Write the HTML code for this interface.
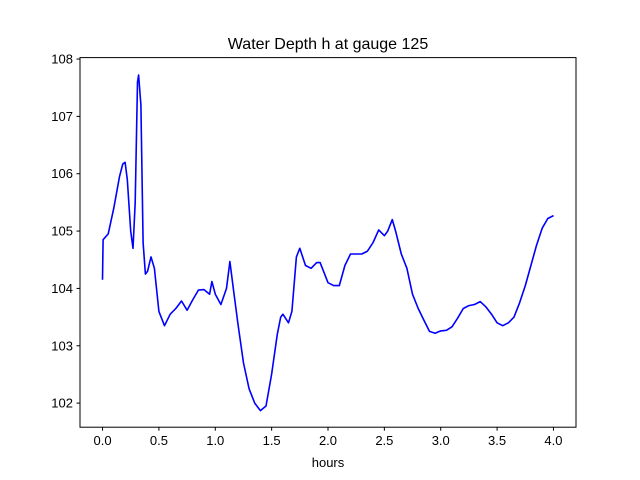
<!DOCTYPE html>
<html><head><meta charset="utf-8"><style>
html,body{margin:0;padding:0;background:#fff;}
svg{display:block;font-family:"Liberation Sans","DejaVu Sans",sans-serif;}
</style></head><body>
<svg id="chart" width="640" height="480" viewBox="0 0 640 480">
<rect width="640" height="480" fill="#fff"/>
<text x="328" y="49" text-anchor="middle" font-size="16">Water Depth h at gauge 125</text>
<g id="series"></g>
<g id="axes"></g>
<rect x="80" y="57.6" width="496" height="369.6" fill="none" stroke="#000" stroke-width="1"/>
<text x="328" y="467" text-anchor="middle" font-size="13">hours</text>
</svg>
<script>
const hours=[0,0.005,0.05,0.1,0.15,0.18,0.2,0.22,0.25,0.27,0.29,0.31,0.32,0.34,0.36,0.38,0.40,0.43,0.46,0.5,0.55,0.6,0.65,0.7,0.75,0.8,0.85,0.9,0.95,0.97,1.0,1.05,1.1,1.13,1.16,1.2,1.25,1.3,1.35,1.4,1.45,1.5,1.55,1.58,1.6,1.65,1.68,1.72,1.75,1.8,1.85,1.9,1.93,1.96,2.0,2.05,2.1,2.15,2.2,2.25,2.3,2.35,2.4,2.45,2.5,2.53,2.57,2.6,2.65,2.7,2.75,2.8,2.85,2.9,2.95,3.0,3.05,3.1,3.15,3.2,3.25,3.3,3.35,3.4,3.45,3.5,3.55,3.6,3.65,3.7,3.75,3.8,3.85,3.9,3.95,4.0];
const depth=[104.15,104.85,104.95,105.4,105.95,106.17,106.2,105.9,105.0,104.7,105.5,107.6,107.72,107.2,104.8,104.25,104.3,104.55,104.35,103.6,103.35,103.55,103.65,103.78,103.62,103.8,103.97,103.98,103.9,104.12,103.9,103.72,104.0,104.47,104.0,103.4,102.7,102.25,102.0,101.87,101.95,102.5,103.2,103.5,103.55,103.4,103.6,104.55,104.7,104.4,104.35,104.45,104.45,104.3,104.1,104.05,104.05,104.4,104.6,104.6,104.6,104.65,104.8,105.02,104.92,105.0,105.2,105.0,104.6,104.35,103.9,103.65,103.45,103.25,103.22,103.26,103.27,103.33,103.48,103.65,103.7,103.72,103.77,103.68,103.55,103.4,103.35,103.4,103.5,103.75,104.05,104.4,104.75,105.05,105.22,105.27];
const xTicks=[0.0,0.5,1.0,1.5,2.0,2.5,3.0,3.5,4.0];
const xTickLabels=["0.0","0.5","1.0","1.5","2.0","2.5","3.0","3.5","4.0"];
const yTicks=[102,103,104,105,106,107,108];
const yTickLabels=["102","103","104","105","106","107","108"];
const X0=80,X1=576,Y0=427.2,Y1=57.6,xmin=-0.2,xmax=4.2,ymin=101.58,ymax=108.025;
const sx=v=>X0+(v-xmin)/(xmax-xmin)*(X1-X0);
const sy=v=>Y0-(v-ymin)/(ymax-ymin)*(Y0-Y1);
const NS="http://www.w3.org/2000/svg";
const ser=document.getElementById('series'),ax=document.getElementById('axes');
const line=document.createElementNS(NS,'polyline');


line.setAttribute('points',hours.map((h,i)=>sx(h).toFixed(1)+','+sy(depth[i]).toFixed(1)).join(' '));
line.setAttribute('fill','none');line.setAttribute('stroke','#0000ff');line.setAttribute('stroke-width','1.6');line.setAttribute('stroke-linejoin','round');
ser.appendChild(line);
xTicks.forEach((t,i)=>{
 const l=document.createElementNS(NS,'line');
 
 
 l.setAttribute('x1',sx(t));l.setAttribute('x2',sx(t));l.setAttribute('y1',Y0);l.setAttribute('y2',Y0+3.5);l.setAttribute('stroke','#000');
 ax.appendChild(l);
 const tx=document.createElementNS(NS,'text');
 
 
 tx.setAttribute('x',sx(t));tx.setAttribute('y',Y0+18);tx.setAttribute('text-anchor','middle');tx.setAttribute('font-size','13');
 tx.textContent=xTickLabels[i];ax.appendChild(tx);
});
yTicks.forEach((t,i)=>{
 const l=document.createElementNS(NS,'line');
 
 
 l.setAttribute('x1',X0-3.5);l.setAttribute('x2',X0);l.setAttribute('y1',sy(t));l.setAttribute('y2',sy(t));l.setAttribute('stroke','#000');
 ax.appendChild(l);
 const tx=document.createElementNS(NS,'text');
 
 
 tx.setAttribute('x',X0-7);tx.setAttribute('y',sy(t)+4.5);tx.setAttribute('text-anchor','end');tx.setAttribute('font-size','13');
 tx.textContent=yTickLabels[i];ax.appendChild(tx);
});
</script>
</body></html>
